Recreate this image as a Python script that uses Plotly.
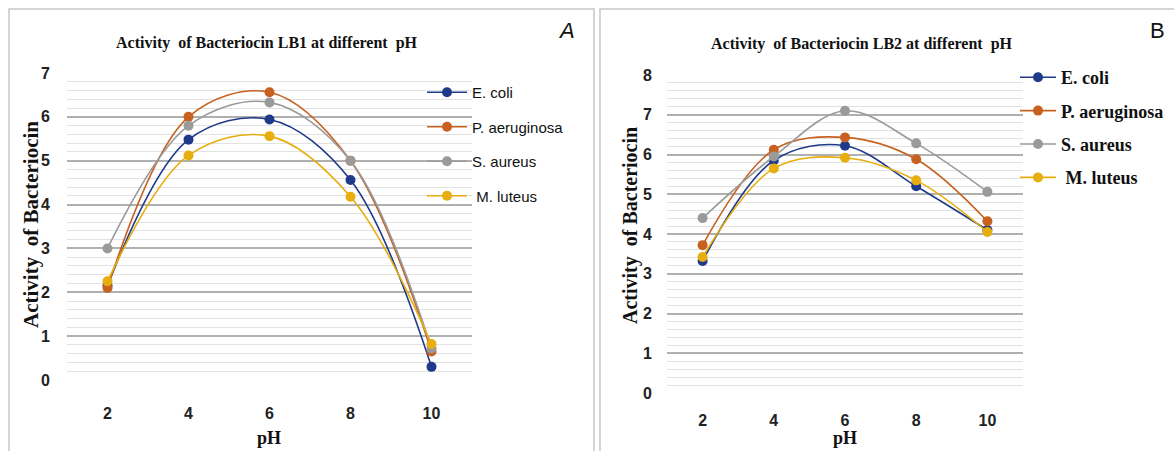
import plotly.graph_objects as go

W, H = 1174, 451

ph_labels = ["2", "4", "6", "8", "10"]
series_names = ["E. coli", "P. aeruginosa", "S. aureus", "M. luteus"]
legend_labels_a = ["E. coli", "P. aeruginosa", "S. aureus", " M. luteus"]
legend_labels_b = ["E. coli", "P. aeruginosa", "S. aureus", " M. luteus"]

lb1_ecoli = [2.15, 5.48, 5.94, 4.56, 0.30]
lb1_paer = [2.10, 6.00, 6.56, 5.00, 0.65]
lb1_saur = [3.00, 5.80, 6.33, 5.00, 0.72]
lb1_mlut = [2.25, 5.12, 5.56, 4.18, 0.82]

lb2_ecoli = [3.32, 5.85, 6.22, 5.20, 4.10]
lb2_paer = [3.72, 6.12, 6.43, 5.88, 4.32]
lb2_saur = [4.40, 5.95, 7.10, 6.28, 5.06]
lb2_mlut = [3.42, 5.65, 5.92, 5.35, 4.05]

colors = ["#1F3A8A", "#C8611F", "#9A9A9A", "#E6AE0E"]

title_a = "Activity  of Bacteriocin LB1 at different  pH"
title_b = "Activity  of Bacteriocin LB2 at different  pH"
ytitle = "Activity  of Bacteriocin"
xtitle = "pH"

SERIF = "Liberation Serif, Times New Roman, serif"
SANS = "Liberation Sans Narrow, Arial Narrow, Liberation Sans, sans-serif"

fig = go.Figure()

def px(x):
    return x / W

def py(y):
    return 1 - y / H

for vals, name, lab, col in zip([lb1_ecoli, lb1_paer, lb1_saur, lb1_mlut], series_names, legend_labels_a, colors):
    fig.add_trace(go.Scatter(
        x=ph_labels, y=vals, name=lab, mode="lines+markers",
        line=dict(color=col, width=1.6, shape="spline", smoothing=1.0),
        marker=dict(color=col, size=10),
        xaxis="x", yaxis="y", legend="legend", legendgroup="a" + name,
    ))

for vals, name, lab, col in zip([lb2_ecoli, lb2_paer, lb2_saur, lb2_mlut], series_names, legend_labels_b, colors):
    fig.add_trace(go.Scatter(
        x=ph_labels, y=vals, name=lab, mode="lines+markers",
        line=dict(color=col, width=1.6, shape="spline", smoothing=1.0),
        marker=dict(color=col, size=10),
        xaxis="x2", yaxis="y2", legend="legend2", legendgroup="b" + name,
    ))

grid_major = "#B0B0B0"
grid_minor = "#E2E2E2"
TICKFONT = dict(family=SANS, size=16, color="#222", weight="bold")

def xaxis(domain, anchor, standoff):
    return dict(
        domain=domain, anchor=anchor, type="category",
        range=[-0.5, 4.5], showgrid=False, zeroline=False, showline=False,
        ticks="outside", ticklen=standoff, tickcolor="rgba(0,0,0,0)",
        tickfont=TICKFONT, automargin=False,
        fixedrange=True,
    )

def yaxis(domain, anchor, rng, standoff):
    return dict(
        domain=domain, anchor=anchor, range=rng, dtick=1, tick0=0,
        showgrid=True, gridcolor=grid_major, gridwidth=1.5,
        minor=dict(dtick=0.2, showgrid=True, gridcolor=grid_minor, gridwidth=1),
        zeroline=False, showline=False,
        ticks="outside", ticklen=standoff, tickcolor="rgba(0,0,0,0)",
        tickfont=TICKFONT, automargin=False,
        fixedrange=True,
    )

fig.update_layout(
    width=W, height=H,
    margin=dict(l=0, r=0, t=0, b=0, autoexpand=False),
    paper_bgcolor="white", plot_bgcolor="white",
    xaxis=xaxis([px(67), px(472)], "y", 19),
    yaxis=yaxis([py(380), py(73)], "x", [0, 7], 13),
    xaxis2=xaxis([px(667), px(1023)], "y2", 13),
    yaxis2=yaxis([py(393), py(75)], "x2", [0, 8], 11),
    legend=dict(
        x=px(422), y=py(76), xanchor="left", yanchor="top",
        bgcolor="rgba(255,255,255,0)", itemwidth=40, tracegroupgap=12,
        font=dict(family=SANS, size=15, color="#111"),
    ),
    legend2=dict(
        x=px(1015), y=py(59), xanchor="left", yanchor="top",
        bgcolor="rgba(255,255,255,0)", itemwidth=36, tracegroupgap=7,
        font=dict(family=SERIF, size=18, color="#111", weight="bold"),
    ),
    showlegend=True,
)

def ann(text, x, y, size, family=SERIF, angle=0):
    return dict(text=text, x=px(x), y=py(y), xref="paper", yref="paper",
                xanchor="center", yanchor="middle", showarrow=False, textangle=angle,
                font=dict(family=family, size=size, color="#111"))

annotations = [
    ann("<b>" + title_a + "</b>", 267, 43, 16),
    ann("<b>" + title_b + "</b>", 862, 44, 16),
    ann("<b>" + xtitle + "</b>", 269, 438, 18),
    ann("<b>" + xtitle + "</b>", 845, 438, 18),
    ann("<b>" + ytitle + "</b>", 31, 225, 21, angle=-90),
    ann("<b>" + ytitle + "</b>", 630, 226, 20, angle=-90),
    ann("<i>A</i>", 566, 31, 22, family="Liberation Sans, sans-serif"),
    ann("B", 1157, 31, 22, family="Liberation Sans, sans-serif"),
]
fig.update_layout(annotations=annotations)

fig.update_layout(shapes=[
    dict(type="rect", xref="paper", yref="paper", x0=px(9), x1=px(594), y0=py(452), y1=py(9),
         line=dict(color="#C8C8C8", width=1.5)),
    dict(type="rect", xref="paper", yref="paper", x0=px(600), x1=px(1180), y0=py(452), y1=py(9),
         line=dict(color="#C8C8C8", width=1.5)),
])

fig.write_html(
    "out.html",
    config={"displayModeBar": False},
    post_script="document.body.style.margin='0';document.body.style.padding='0';document.body.style.overflow='hidden';",
)
